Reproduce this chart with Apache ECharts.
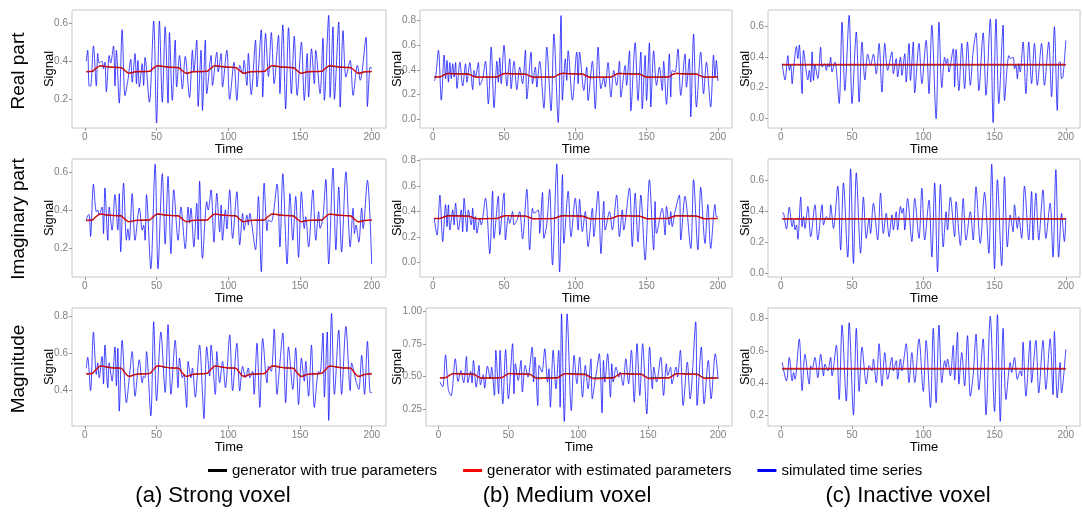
<!DOCTYPE html>
<html><head><meta charset="utf-8">
<script src="https://cdn.jsdelivr.net/npm/echarts/dist/echarts.min.js"></script>
<style>html,body{margin:0;padding:0;background:#fff}#c{width:1083px;height:514px}</style>
</head><body><div id="c"></div>
<script>
// ---------- labels ----------
const seriesNames = ['generator with true parameters', 'generator with estimated parameters', 'simulated time series'];
const rowLabels = ['Real part', 'Imaginary part', 'Magnitude'];
const colTitles = ['(a) Strong voxel', '(b) Medium voxel', '(c) Inactive voxel'];
const timeTicks = [0, 50, 100, 150, 200];
const ticksRealStrong = [0.2, 0.4, 0.6];
const ticksRealMedium = [0, 0.2, 0.4, 0.6, 0.8];
const ticksRealInactive = [0, 0.2, 0.4, 0.6];
const ticksImagStrong = [0.2, 0.4, 0.6];
const ticksImagMedium = [0, 0.2, 0.4, 0.6, 0.8];
const ticksImagInactive = [0, 0.2, 0.4, 0.6];
const ticksMagStrong = [0.4, 0.6, 0.8];
const ticksMagMedium = [0.25, 0.5, 0.75, 1];
const ticksMagInactive = [0.2, 0.4, 0.6, 0.8];

// ---------- simulated time series [time, signal] ----------
const simRealStrong = [[1,0.40],[2,0.457],[3,0.27],[4,0.27],[6,0.48],[8,0.27],[9,0.44],[10,0.39],[12,0.40],[13,0.36],[14,0.395],[15,0.24],[17,0.43],[18,0.39],[20,0.48],[21,0.27],[22,0.457],[24,0.18],[26,0.565],[28,0.22],[30,0.30],[32,0.41],[33,0.29],[35,0.44],[36,0.282],[37,0.404],[38,0.265],[40,0.387],[41,0.273],[42,0.42],[45,0.185],[48,0.61],[50,0.076],[52,0.61],[54,0.185],[56,0.58],[58,0.18],[59,0.55],[61,0.195],[63,0.51],[64,0.265],[66,0.43],[68,0.255],[70,0.425],[73,0.21],[75,0.457],[76,0.343],[78,0.51],[79,0.163],[81,0.457],[82,0.142],[84,0.51],[85,0.23],[88,0.43],[89,0.273],[92,0.447],[93,0.343],[95,0.44],[96,0.265],[99,0.457],[101,0.2],[104,0.395],[106,0.195],[108,0.378],[110,0.334],[111,0.404],[113,0.273],[114,0.44],[116,0.225],[119,0.51],[120,0.265],[123,0.565],[124,0.212],[126,0.545],[128,0.32],[130,0.55],[132,0.282],[135,0.535],[136,0.23],[138,0.59],[140,0.15],[142,0.575],[144,0.23],[146,0.53],[148,0.221],[151,0.5],[153,0.195],[155,0.44],[156,0.212],[158,0.465],[160,0.282],[161,0.457],[164,0.23],[166,0.52],[167,0.195],[170,0.64],[171,0.21],[173,0.58],[174,0.2],[177,0.605],[178,0.16],[180,0.56],[182,0.317],[185,0.404],[187,0.221],[190,0.378],[192,0.3],[196,0.525],[197,0.163],[199,0.37],[200,0.36]];
const simRealMedium = [[1,0.31],[2,0.34],[4,0.56],[6,0.155],[8,0.52],[9,0.329],[10,0.477],[11,0.30],[12,0.46],[13,0.329],[14,0.45],[15,0.342],[16,0.46],[17,0.25],[19,0.463],[21,0.27],[23,0.45],[24,0.30],[26,0.46],[28,0.24],[29,0.396],[30,0.342],[32,0.46],[33,0.275],[35,0.33],[37,0.47],[39,0.125],[41,0.585],[43,0.095],[45,0.47],[46,0.30],[47,0.498],[48,0.288],[50,0.60],[52,0.27],[54,0.49],[55,0.248],[57,0.47],[59,0.24],[61,0.423],[63,0.288],[65,0.56],[66,0.165],[69,0.545],[70,0.288],[72,0.423],[73,0.261],[75,0.47],[78,0.09],[80,0.585],[83,0.07],[85,0.69],[88,-0.025],[90,0.84],[91,0.155],[93,0.49],[94,0.315],[95,0.555],[98,0.155],[101,0.545],[102,0.288],[103,0.545],[106,0.234],[108,0.423],[109,0.153],[112,0.47],[114,0.085],[116,0.585],[118,0.248],[120,0.342],[121,0.261],[123,0.46],[125,0.18],[127,0.396],[129,0.275],[131,0.47],[132,0.18],[135,0.436],[136,0.275],[138,0.555],[139,0.07],[142,0.62],[144,0.153],[146,0.545],[147,0.085],[149,0.517],[150,0.153],[152,0.62],[153,0.1],[155,0.555],[157,0.275],[159,0.423],[161,0.234],[162,0.47],[164,0.121],[166,0.53],[167,0.18],[168,0.396],[170,0.383],[172,0.57],[174,0.194],[177,0.53],[178,0.261],[180,0.49],[181,0.02],[183,0.69],[185,0.1],[188,0.545],[190,0.207],[192,0.463],[195,0.1],[197,0.52],[198,0.342],[199,0.477],[200,0.31]];
const simRealInactive = [[1,0.357],[3,0.25],[5,0.41],[6,0.313],[7,0.346],[8,0.225],[9,0.324],[11,0.47],[12,0.39],[13,0.48],[15,0.16],[16,0.445],[19,0.25],[20,0.313],[21,0.236],[22,0.435],[23,0.247],[24,0.346],[26,0.26],[28,0.465],[29,0.335],[31,0.357],[32,0.313],[33,0.357],[34,0.335],[35,0.40],[36,0.302],[38,0.368],[39,0.32],[41,0.095],[43,0.63],[45,0.18],[48,0.675],[50,0.095],[53,0.565],[55,0.105],[57,0.50],[59,0.25],[61,0.42],[63,0.346],[65,0.42],[67,0.29],[69,0.49],[71,0.17],[73,0.49],[75,0.313],[78,0.435],[79,0.291],[81,0.39],[82,0.269],[84,0.40],[85,0.28],[87,0.423],[88,0.236],[90,0.49],[91,0.247],[93,0.50],[94,0.165],[97,0.49],[99,0.226],[102,0.51],[104,0.16],[106,0.61],[109,-0.005],[111,0.63],[113,0.20],[115,0.40],[116,0.357],[117,0.39],[118,0.302],[121,0.455],[122,0.204],[123,0.45],[125,0.18],[127,0.49],[129,0.193],[131,0.50],[133,0.215],[135,0.44],[137,0.56],[139,0.18],[142,0.56],[144,0.15],[147,0.65],[149,-0.03],[151,0.65],[153,0.095],[156,0.61],[157,0.115],[160,0.41],[161,0.39],[163,0.40],[164,0.324],[165,0.346],[166,0.258],[167,0.357],[168,0.302],[170,0.50],[172,0.16],[174,0.50],[176,0.226],[178,0.49],[180,0.215],[183,0.49],[185,0.215],[188,0.50],[190,0.14],[192,0.60],[194,0.05],[195,0.36],[196,0.37],[197,0.258],[198,0.27],[200,0.51]];
const simImagStrong = [[1,0.345],[2,0.37],[3,0.375],[4,0.26],[6,0.535],[8,0.39],[9,0.399],[10,0.372],[12,0.415],[13,0.275],[14,0.515],[16,0.24],[17,0.415],[19,0.293],[21,0.48],[23,0.293],[24,0.485],[25,0.18],[27,0.54],[29,0.24],[30,0.30],[31,0.24],[33,0.485],[35,0.24],[38,0.41],[40,0.293],[41,0.32],[42,0.24],[43,0.48],[46,0.09],[49,0.64],[51,0.09],[54,0.59],[56,0.22],[58,0.575],[60,0.17],[62,0.505],[65,0.24],[67,0.415],[70,0.195],[72,0.415],[73,0.33],[74,0.408],[76,0.205],[78,0.434],[79,0.244],[80,0.55],[82,0.145],[85,0.443],[86,0.399],[88,0.505],[90,0.23],[92,0.487],[94,0.284],[95,0.425],[96,0.24],[98,0.40],[99,0.30],[101,0.505],[103,0.25],[106,0.495],[108,0.215],[110,0.381],[111,0.293],[113,0.372],[114,0.32],[115,0.381],[116,0.346],[119,0.19],[121,0.47],[123,0.075],[125,0.54],[127,0.29],[128,0.346],[130,0.337],[134,0.535],[136,0.205],[138,0.59],[141,0.115],[143,0.485],[145,0.24],[147,0.47],[149,0.15],[151,0.495],[153,0.302],[154,0.364],[156,0.205],[159,0.505],[161,0.24],[163,0.39],[164,0.302],[166,0.36],[168,0.56],[170,0.115],[173,0.62],[175,0.19],[177,0.52],[179,0.178],[182,0.60],[185,0.205],[187,0.408],[188,0.275],[189,0.32],[191,0.23],[193,0.41],[194,0.302],[197,0.555],[200,0.115]];
const simImagMedium = [[1,0.35],[3,0.215],[5,0.53],[7,0.165],[9,0.455],[10,0.282],[11,0.453],[12,0.255],[14,0.413],[15,0.295],[16,0.466],[18,0.255],[20,0.413],[21,0.242],[22,0.505],[24,0.242],[25,0.413],[27,0.295],[28,0.426],[29,0.255],[30,0.36],[31,0.23],[33,0.347],[34,0.295],[37,0.505],[40,0.07],[42,0.56],[43,0.19],[46,0.52],[47,0.216],[50,0.545],[51,0.176],[53,0.36],[54,0.308],[56,0.40],[57,0.295],[59,0.33],[61,0.40],[63,0.185],[66,0.575],[68,0.10],[70,0.426],[71,0.387],[74,0.413],[75,0.229],[77,0.55],[78,0.19],[80,0.30],[82,0.575],[84,-0.02],[87,0.775],[89,-0.075],[91,0.69],[92,0.15],[95,0.56],[97,0.203],[100,0.505],[102,0.255],[103,0.497],[105,0.242],[107,0.40],[109,0.125],[112,0.425],[113,0.203],[116,0.56],[118,0.07],[120,0.48],[121,0.255],[124,0.40],[126,0.255],[129,0.53],[131,0.203],[133,0.413],[134,0.255],[138,0.585],[140,0.125],[142,0.545],[144,0.163],[146,0.53],[149,0.02],[152,0.65],[155,0.10],[156,0.479],[157,0.229],[161,0.425],[163,0.216],[164,0.44],[166,0.295],[167,0.40],[168,0.282],[170,0.40],[173,0.53],[174,0.176],[177,0.52],[181,0.11],[183,0.65],[186,0.10],[188,0.59],[191,0.15],[193,0.455],[195,0.11],[198,0.455],[199,0.36],[200,0.36]];
const simImagInactive = [[1,0.39],[2,0.386],[4,0.285],[6,0.425],[8,0.30],[9,0.343],[10,0.279],[11,0.311],[12,0.22],[14,0.49],[15,0.30],[16,0.364],[17,0.289],[19,0.43],[21,0.235],[24,0.44],[26,0.215],[29,0.44],[30,0.311],[32,0.364],[34,0.343],[35,0.44],[37,0.289],[40,0.56],[42,0.15],[44,0.58],[47,0.105],[49,0.67],[51,0.065],[53,0.645],[56,0.13],[58,0.49],[60,0.225],[62,0.354],[63,0.257],[65,0.45],[68,0.215],[70,0.515],[72,0.257],[74,0.386],[76,0.236],[78,0.375],[79,0.279],[81,0.395],[82,0.279],[84,0.429],[85,0.386],[86,0.418],[87,0.279],[89,0.48],[92,0.205],[94,0.48],[97,0.225],[99,0.545],[101,0.214],[104,0.47],[106,0.105],[108,0.58],[110,0.01],[112,0.57],[114,0.17],[116,0.396],[117,0.279],[119,0.49],[122,0.236],[123,0.46],[126,0.18],[128,0.48],[130,0.214],[133,0.396],[135,0.214],[137,0.555],[140,0.193],[143,0.52],[146,0.13],[148,0.70],[150,0.03],[152,0.60],[155,0.05],[157,0.62],[159,0.17],[161,0.375],[163,0.268],[164,0.44],[166,0.289],[167,0.364],[169,0.225],[171,0.56],[174,0.215],[176,0.525],[177,0.214],[179,0.515],[181,0.214],[184,0.535],[186,0.225],[189,0.45],[191,0.105],[193,0.665],[195,0.105],[197,0.385],[199,0.205],[200,0.355]];
const simMagStrong = [[1,0.52],[2,0.58],[4,0.40],[6,0.715],[8,0.487],[9,0.549],[10,0.469],[12,0.584],[13,0.435],[14,0.645],[16,0.415],[17,0.549],[19,0.451],[21,0.635],[22,0.425],[23,0.628],[24,0.29],[26,0.67],[29,0.335],[31,0.47],[33,0.61],[35,0.37],[38,0.566],[40,0.442],[41,0.478],[42,0.47],[43,0.61],[46,0.265],[48,0.77],[50,0.345],[53,0.715],[56,0.39],[58,0.755],[60,0.38],[63,0.67],[65,0.416],[66,0.575],[68,0.469],[69,0.487],[71,0.31],[72,0.557],[74,0.469],[75,0.522],[77,0.365],[80,0.645],[82,0.389],[83,0.25],[85,0.635],[87,0.478],[88,0.645],[91,0.38],[92,0.61],[94,0.442],[96,0.557],[98,0.416],[101,0.70],[103,0.40],[106,0.655],[108,0.398],[110,0.531],[112,0.469],[114,0.522],[115,0.469],[117,0.504],[118,0.38],[120,0.655],[122,0.31],[124,0.68],[127,0.442],[128,0.531],[130,0.504],[132,0.73],[134,0.38],[136,0.55],[138,0.71],[140,0.335],[142,0.635],[145,0.407],[147,0.63],[149,0.325],[151,0.575],[153,0.451],[154,0.557],[156,0.37],[158,0.645],[160,0.31],[163,0.504],[164,0.495],[166,0.71],[167,0.365],[169,0.715],[170,0.24],[172,0.815],[174,0.38],[177,0.725],[179,0.38],[182,0.745],[185,0.40],[186,0.549],[188,0.487],[189,0.451],[191,0.407],[193,0.59],[195,0.38],[197,0.665],[199,0.39],[200,0.39]];
const simMagMedium = [[1,0.455],[3,0.42],[5,0.665],[7,0.40],[9,0.35],[12,0.635],[14,0.46],[16,0.545],[18,0.45],[20,0.653],[21,0.45],[23,0.538],[24,0.45],[25,0.622],[27,0.417],[29,0.584],[30,0.435],[32,0.512],[33,0.409],[35,0.579],[37,0.481],[38,0.571],[40,0.353],[41,0.70],[43,0.366],[44,0.70],[46,0.289],[48,0.705],[50,0.327],[53,0.751],[54,0.366],[55,0.597],[57,0.468],[59,0.622],[60,0.379],[62,0.584],[64,0.494],[67,0.725],[68,0.456],[69,0.648],[71,0.276],[72,0.584],[74,0.533],[76,0.712],[78,0.456],[79,0.558],[80,0.263],[82,0.70],[84,0.404],[86,0.70],[87,0.263],[88,0.98],[90,0.153],[92,0.98],[95,0.237],[97,0.661],[99,0.443],[101,0.648],[103,0.34],[105,0.584],[107,0.404],[109,0.635],[110,0.327],[112,0.468],[113,0.533],[115,0.674],[117,0.219],[118,0.622],[119,0.456],[121,0.674],[123,0.34],[124,0.597],[125,0.456],[127,0.571],[129,0.494],[130,0.533],[132,0.43],[134,0.635],[136,0.443],[138,0.70],[140,0.301],[142,0.751],[144,0.353],[146,0.751],[149,0.212],[151,0.725],[153,0.404],[154,0.571],[156,0.456],[159,0.648],[161,0.353],[163,0.597],[164,0.507],[166,0.571],[167,0.443],[170,0.571],[171,0.494],[173,0.70],[175,0.276],[178,0.61],[180,0.327],[184,0.918],[185,0.276],[188,0.725],[190,0.289],[193,0.622],[195,0.327],[198,0.674],[200,0.48]];
const simMagInactive = [[1,0.53],[4,0.415],[6,0.56],[8,0.415],[9,0.467],[10,0.425],[13,0.675],[15,0.355],[17,0.58],[20,0.395],[21,0.508],[22,0.488],[24,0.56],[26,0.435],[28,0.58],[30,0.446],[31,0.519],[33,0.477],[35,0.56],[36,0.446],[39,0.635],[41,0.30],[43,0.76],[46,0.29],[48,0.775],[51,0.205],[53,0.74],[55,0.35],[57,0.625],[60,0.395],[62,0.51],[64,0.477],[65,0.55],[67,0.404],[69,0.645],[71,0.383],[73,0.59],[75,0.425],[78,0.56],[79,0.477],[81,0.54],[82,0.425],[84,0.55],[85,0.477],[88,0.645],[90,0.404],[92,0.59],[94,0.405],[97,0.675],[100,0.35],[102,0.665],[105,0.25],[107,0.74],[109,0.28],[111,0.76],[113,0.404],[115,0.54],[116,0.498],[117,0.55],[119,0.446],[121,0.635],[122,0.42],[124,0.715],[125,0.395],[127,0.59],[129,0.383],[131,0.695],[133,0.32],[135,0.45],[137,0.705],[139,0.36],[142,0.675],[144,0.205],[147,0.815],[150,0.225],[152,0.825],[154,0.165],[156,0.74],[158,0.30],[161,0.529],[162,0.467],[164,0.56],[166,0.425],[168,0.477],[169,0.446],[170,0.655],[172,0.32],[175,0.665],[176,0.404],[179,0.665],[181,0.34],[184,0.665],[186,0.363],[189,0.675],[191,0.33],[192,0.72],[194,0.31],[196,0.529],[197,0.34],[200,0.61]];

// ---------- generator curves (true / estimated) ----------
const genTimes = [1,5,8,11,15,20,25,28,31,35, 40,45,48,51,55,60,65,68,71,75, 80,85,88,91,95,100,105,108,111,115, 120,125,128,131,135,140,145,148,151,155, 160,165,168,171,175,180,185,188,191,195, 200];
const trueRealStrong = [0.345,0.346,0.363,0.375,0.371,0.368,0.367,0.351,0.337,0.344, 0.345,0.346,0.363,0.375,0.371,0.368,0.367,0.351,0.337,0.344, 0.345,0.346,0.363,0.375,0.371,0.368,0.367,0.351,0.337,0.344, 0.345,0.346,0.363,0.375,0.371,0.368,0.367,0.351,0.337,0.344, 0.345,0.346,0.363,0.375,0.371,0.368,0.367,0.351,0.337,0.344, 0.345];
const estRealStrong = [0.345,0.347,0.365,0.376,0.372,0.368,0.366,0.350,0.336,0.344, 0.346,0.347,0.366,0.377,0.372,0.368,0.366,0.349,0.335,0.344, 0.346,0.347,0.365,0.377,0.373,0.369,0.366,0.350,0.336,0.344, 0.346,0.347,0.366,0.377,0.372,0.368,0.366,0.350,0.336,0.344, 0.346,0.347,0.365,0.377,0.372,0.368,0.366,0.350,0.335,0.344, 0.346];
const trueRealMedium = [0.342,0.343,0.362,0.373,0.370,0.368,0.367,0.352,0.342,0.342, 0.342,0.343,0.362,0.373,0.370,0.368,0.367,0.352,0.342,0.342, 0.342,0.343,0.362,0.373,0.370,0.368,0.367,0.352,0.342,0.342, 0.342,0.343,0.362,0.373,0.370,0.368,0.367,0.352,0.342,0.342, 0.342,0.343,0.362,0.373,0.370,0.368,0.367,0.352,0.342,0.342, 0.342];
const estRealMedium = [0.342,0.344,0.360,0.371,0.368,0.366,0.365,0.350,0.340,0.341, 0.342,0.343,0.360,0.372,0.368,0.366,0.365,0.350,0.339,0.341, 0.342,0.344,0.361,0.372,0.369,0.367,0.365,0.349,0.338,0.340, 0.341,0.343,0.360,0.371,0.368,0.366,0.364,0.349,0.339,0.341, 0.342,0.343,0.360,0.371,0.368,0.366,0.365,0.350,0.340,0.342, 0.342];
const trueRealInactive = [0.349, 0.349];
const estRealInactive = [0.351, 0.351];
const trueImagStrong = [0.345,0.346,0.364,0.377,0.373,0.370,0.369,0.352,0.338,0.344, 0.345,0.346,0.364,0.377,0.373,0.370,0.369,0.352,0.338,0.344, 0.345,0.346,0.364,0.377,0.373,0.370,0.369,0.352,0.338,0.344, 0.345,0.346,0.364,0.377,0.373,0.370,0.369,0.352,0.338,0.344, 0.345,0.346,0.364,0.377,0.373,0.370,0.369,0.352,0.338,0.344, 0.345];
const estImagStrong = [0.344,0.347,0.366,0.378,0.374,0.370,0.368,0.350,0.337,0.344, 0.346,0.348,0.367,0.379,0.374,0.370,0.368,0.351,0.337,0.344, 0.346,0.347,0.366,0.378,0.374,0.370,0.368,0.350,0.337,0.344, 0.346,0.348,0.367,0.379,0.374,0.370,0.368,0.351,0.337,0.344, 0.346,0.347,0.366,0.378,0.374,0.370,0.368,0.350,0.336,0.344, 0.346];
const trueImagMedium = [0.345,0.346,0.359,0.368,0.367,0.366,0.365,0.354,0.344,0.345, 0.345,0.346,0.359,0.368,0.367,0.366,0.365,0.354,0.344,0.345, 0.345,0.346,0.359,0.368,0.367,0.366,0.365,0.354,0.344,0.345, 0.345,0.346,0.359,0.368,0.367,0.366,0.365,0.354,0.344,0.345, 0.345,0.346,0.359,0.368,0.367,0.366,0.365,0.354,0.344,0.345, 0.345];
const estImagMedium = [0.345,0.346,0.358,0.366,0.365,0.364,0.363,0.352,0.343,0.344, 0.345,0.346,0.358,0.367,0.366,0.364,0.363,0.352,0.342,0.344, 0.344,0.345,0.357,0.366,0.365,0.364,0.362,0.351,0.341,0.343, 0.344,0.346,0.358,0.367,0.365,0.364,0.363,0.352,0.342,0.344, 0.345,0.346,0.358,0.366,0.365,0.364,0.363,0.352,0.343,0.345, 0.346];
const trueImagInactive = [0.349, 0.349];
const estImagInactive = [0.350, 0.350];
const trueMagStrong = [0.490,0.492,0.514,0.532,0.527,0.522,0.521,0.497,0.477,0.487, 0.490,0.492,0.514,0.532,0.527,0.522,0.521,0.497,0.477,0.487, 0.490,0.492,0.514,0.532,0.527,0.522,0.521,0.497,0.477,0.487, 0.490,0.492,0.514,0.532,0.527,0.522,0.521,0.497,0.477,0.487, 0.490,0.492,0.514,0.532,0.527,0.522,0.521,0.497,0.477,0.487, 0.490];
const estMagStrong = [0.490,0.493,0.515,0.533,0.528,0.522,0.520,0.495,0.476,0.487, 0.490,0.492,0.515,0.534,0.528,0.522,0.520,0.495,0.476,0.487, 0.490,0.493,0.515,0.533,0.528,0.522,0.520,0.495,0.476,0.487, 0.490,0.492,0.515,0.534,0.528,0.522,0.520,0.495,0.476,0.487, 0.490,0.493,0.515,0.533,0.528,0.522,0.520,0.495,0.476,0.487, 0.490];
const trueMagMedium = [0.488,0.491,0.510,0.522,0.520,0.518,0.517,0.500,0.487,0.488, 0.488,0.491,0.510,0.522,0.520,0.518,0.517,0.500,0.487,0.488, 0.488,0.491,0.510,0.522,0.520,0.518,0.517,0.500,0.487,0.488, 0.488,0.491,0.510,0.522,0.520,0.518,0.517,0.500,0.487,0.488, 0.488,0.491,0.510,0.522,0.520,0.518,0.517,0.500,0.487,0.488, 0.488];
const estMagMedium = [0.487,0.490,0.508,0.520,0.518,0.516,0.515,0.498,0.486,0.487, 0.487,0.489,0.508,0.521,0.518,0.516,0.514,0.496,0.483,0.485, 0.486,0.488,0.507,0.519,0.517,0.515,0.513,0.494,0.481,0.483, 0.485,0.487,0.507,0.520,0.518,0.516,0.514,0.495,0.482,0.484, 0.486,0.488,0.508,0.520,0.518,0.516,0.514,0.496,0.483,0.486, 0.487];
const trueMagInactive = [0.489, 0.489];
const estMagInactive = [0.491, 0.491];
const flatTimes = [1, 200];

// ---------- layout ----------
const colLeft = [72, 420, 768];
const colWidth = [314, 312, 312];
const rowTop = [10, 159, 308];
const rowHeight = 118;
const xRange = [-8.95, 209.95];

const panels = [
  {r:0,c:0,sim:simRealStrong,gt:genTimes,tru:trueRealStrong,est:estRealStrong,y:[0.05,0.668],ticks:ticksRealStrong,d:1},
  {r:0,c:1,sim:simRealMedium,gt:genTimes,tru:trueRealMedium,est:estRealMedium,y:[-0.07,0.885],ticks:ticksRealMedium,d:1},
  {r:0,c:2,sim:simRealInactive,gt:flatTimes,tru:trueRealInactive,est:estRealInactive,y:[-0.066,0.71],ticks:ticksRealInactive,d:1},
  {r:1,c:0,sim:simImagStrong,gt:genTimes,tru:trueImagStrong,est:estImagStrong,y:[0.047,0.667],ticks:ticksImagStrong,d:1},
  {r:1,c:1,sim:simImagMedium,gt:genTimes,tru:trueImagMedium,est:estImagMedium,y:[-0.114,0.813],ticks:ticksImagMedium,d:1},
  {r:1,c:2,sim:simImagInactive,gt:flatTimes,tru:trueImagInactive,est:estImagInactive,y:[-0.022,0.733],ticks:ticksImagInactive,d:1},
  {r:2,c:0,sim:simMagStrong,gt:genTimes,tru:trueMagStrong,est:estMagStrong,y:[0.21,0.844],ticks:ticksMagStrong,d:1},
  {r:2,c:1,sim:simMagMedium,gt:genTimes,tru:trueMagMedium,est:estMagMedium,y:[0.1185,1.025],ticks:ticksMagMedium,d:2,shift:6},
  {r:2,c:2,sim:simMagInactive,gt:flatTimes,tru:trueMagInactive,est:estMagInactive,y:[0.136,0.866],ticks:ticksMagInactive,d:1}
];

const FONT = "'Liberation Sans', Arial, Helvetica, sans-serif";
const grid = [], xAxis = [], yAxis = [], series = [];
panels.forEach((p, i) => {
  const sh = p.shift || 0;
  grid.push({left: colLeft[p.c] + sh, top: rowTop[p.r], width: colWidth[p.c] - sh, height: rowHeight,
    show: true, borderColor: '#c6c6c6', borderWidth: 1, backgroundColor: '#fff'});
  xAxis.push({gridIndex: i, type: 'value', min: xRange[0], max: xRange[1], position: 'bottom',
    name: 'Time', nameLocation: 'middle', nameGap: 15, nameMoveOverlap: false,
    nameTextStyle: {fontSize: 13, color: '#000', fontFamily: FONT},
    axisLine: {show: false, onZero: false}, splitLine: {show: false},
    axisTick: {show: true, length: 3, lineStyle: {color: '#9a9a9a'}, customValues: timeTicks},
    axisLabel: {customValues: timeTicks, fontSize: 10, color: '#7f7f7f', margin: 4, fontFamily: FONT}});
  yAxis.push({gridIndex: i, type: 'value', min: p.y[0], max: p.y[1], position: 'left',
    name: 'Signal', nameLocation: 'middle', nameGap: 16 + sh, nameMoveOverlap: false,
    nameTextStyle: {fontSize: 13, color: '#000', fontFamily: FONT},
    axisLine: {show: false, onZero: false}, splitLine: {show: false},
    axisTick: {show: true, length: 3, lineStyle: {color: '#9a9a9a'}, customValues: p.ticks},
    axisLabel: {customValues: p.ticks, fontSize: 10, color: '#7f7f7f', margin: 4, fontFamily: FONT,
      formatter: (v) => Number(v).toFixed(p.d)}});
  series.push({type: 'line', name: seriesNames[2], xAxisIndex: i, yAxisIndex: i, data: p.sim,
    symbol: 'none', smooth: 0.3, silent: true,
    lineStyle: {color: 'rgba(0,0,255,0.72)', width: 1}, itemStyle: {color: '#0000ff'}, z: 2});
  series.push({type: 'line', name: seriesNames[0], xAxisIndex: i, yAxisIndex: i,
    data: p.gt.map((t, k) => [t, p.tru[k]]), symbol: 'none', smooth: 0.4, silent: true,
    lineStyle: {color: '#000', width: 1}, itemStyle: {color: '#000'}, z: 3});
  series.push({type: 'line', name: seriesNames[1], xAxisIndex: i, yAxisIndex: i,
    data: p.gt.map((t, k) => [t, p.est[k]]), symbol: 'none', smooth: 0.4, silent: true,
    lineStyle: {color: 'rgba(255,0,0,0.75)', width: 1.5}, itemStyle: {color: '#ff0000'}, z: 4});
});

const graphic = [];
const rowCenters = [71, 219, 369];
rowLabels.forEach((t, k) => graphic.push({type: 'text', x: 19, y: rowCenters[k], rotation: Math.PI / 2,
  style: {text: t, font: '19px ' + FONT, fill: '#000', align: 'center', verticalAlign: 'middle'}}));
const titleCenters = [213, 567, 908];
colTitles.forEach((t, k) => graphic.push({type: 'text', x: titleCenters[k], y: 496,
  style: {text: t, font: '22px ' + FONT, fill: '#000', align: 'center', verticalAlign: 'middle'}}));

const chart = echarts.init(document.getElementById('c'), null, {renderer: 'canvas'});
chart.setOption({
  animation: false,
  backgroundColor: '#fff',
  grid, xAxis, yAxis, series, graphic,
  legend: {data: seriesNames, left: 203, top: 458, icon: 'rect', itemWidth: 19, itemHeight: 3, itemGap: 26,
    textStyle: {fontSize: 15, color: '#000', fontFamily: FONT}, selectedMode: false}
});
</script></body></html>
